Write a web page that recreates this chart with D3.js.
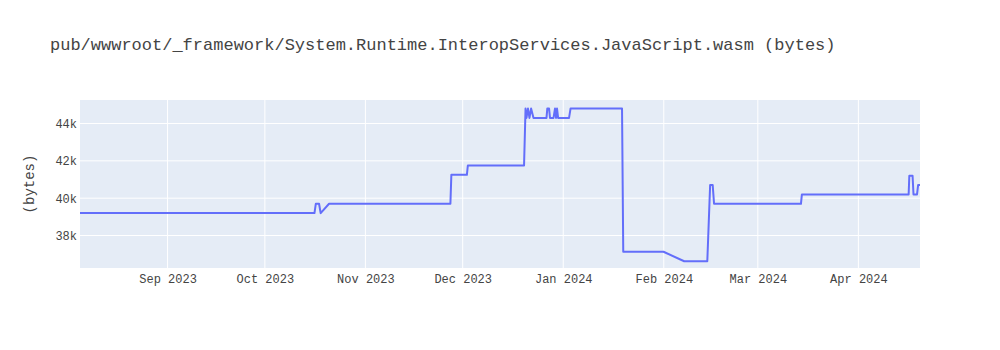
<!DOCTYPE html>
<html>
<head>
<meta charset="utf-8">
<script src="https://cdn.jsdelivr.net/npm/d3@7"></script>
<style>
  body { margin: 0; background: #fff; }
  svg text { font-family: "Courier New", "Liberation Mono", monospace; fill: #444; }
</style>
</head>
<body>
<div id="chart"></div>
<script>
// size history of the file, one point per change
var dates = [
    "2023-08-05T00:00", "2023-10-16T07:00", "2023-10-16T17:00", "2023-10-17T17:00",
    "2023-10-18T05:00", "2023-10-20T19:00", "2023-11-27T05:00", "2023-11-27T12:00",
    "2023-12-02T07:00", "2023-12-02T14:00", "2023-12-19T22:00", "2023-12-20T09:00",
    "2023-12-20T16:00", "2023-12-21T03:00", "2023-12-21T14:00", "2023-12-22T02:00",
    "2023-12-22T20:00", "2023-12-26T20:00", "2023-12-27T02:00", "2023-12-27T15:00",
    "2023-12-27T22:00", "2023-12-29T00:00", "2023-12-29T11:00", "2023-12-29T19:00",
    "2023-12-30T02:00", "2023-12-30T10:00", "2024-01-02T19:00", "2024-01-03T06:00",
    "2024-01-19T03:00", "2024-01-19T12:00", "2024-01-31T22:00", "2024-02-07T07:00",
    "2024-02-14T10:00", "2024-02-15T07:00", "2024-02-16T02:00", "2024-02-16T12:00",
    "2024-03-14T07:00", "2024-03-14T14:00", "2024-04-16T12:00", "2024-04-16T17:00",
    "2024-04-17T17:00", "2024-04-18T00:00", "2024-04-19T02:00", "2024-04-19T10:00",
    "2024-04-20T00:00"
];
var sizes = [
    39200, 39200, 39700, 39700,
    39200, 39700, 39700, 41250,
    41250, 41750, 41750, 44800,
    44300, 44800, 44300, 44800,
    44300, 44300, 44800, 44800,
    44300, 44300, 44800, 44300,
    44800, 44300, 44300, 44800,
    44800, 37130, 37130, 36620,
    36620, 40700, 40700, 39700,
    39700, 40200, 40200, 41200,
    41200, 40200, 40200, 40700,
    40700
];
var yTicks = [38000, 40000, 42000, 44000];
var yRange = [36260, 45260];
var title = "pub/wwwroot/_framework/System.Runtime.InteropServices.JavaScript.wasm (bytes)";
var yTitle = "(bytes)";

var svgWidth = 1000, svgHeight = 350;
var margin = {top: 100, right: 80, bottom: 82, left: 80};
var width = svgWidth - margin.left - margin.right,
    height = svgHeight - margin.top - margin.bottom;

var parseTime = d3.timeParse("%Y-%m-%dT%H:%M");
var data = dates.map(function (d, i) { return {date: parseTime(d), value: sizes[i]}; });

var svg = d3.select("#chart").append("svg")
    .attr("width", svgWidth)
    .attr("height", svgHeight);

var g = svg.append("g")
    .attr("transform", "translate(" + margin.left + "," + margin.top + ")");

var xScale = d3.scaleTime().domain(d3.extent(data, function (d) { return d.date; })).range([0, width]),
    yScale = d3.scaleLinear().domain(yRange).range([height, 0]);

g.append("rect")
    .attr("width", width)
    .attr("height", height)
    .attr("fill", "#e5ecf6");

var monthTicks = xScale.ticks(d3.timeMonth.every(1));

// grid
g.append("g").selectAll("line")
    .data(monthTicks)
    .enter().append("line")
    .attr("x1", function (d) { return xScale(d); })
    .attr("x2", function (d) { return xScale(d); })
    .attr("y1", 0).attr("y2", height)
    .attr("stroke", "#fff").attr("stroke-width", 1);

g.append("g").selectAll("line")
    .data(yTicks)
    .enter().append("line")
    .attr("x1", 0).attr("x2", width)
    .attr("y1", function (d) { return yScale(d); })
    .attr("y2", function (d) { return yScale(d); })
    .attr("stroke", "#fff").attr("stroke-width", 1);

// axes
var xAxis = g.append("g")
    .attr("transform", "translate(0," + height + ")")
    .call(d3.axisBottom(xScale).tickValues(monthTicks).tickFormat(d3.timeFormat("%b %Y")).tickSize(0).tickPadding(6));
xAxis.select(".domain").remove();
xAxis.selectAll("text").style("font-size", "12px").attr("fill", "#444");

var yAxis = g.append("g")
    .call(d3.axisLeft(yScale).tickValues(yTicks).tickFormat(d3.format("~s")).tickSize(0).tickPadding(3));
yAxis.select(".domain").remove();
yAxis.selectAll("text").style("font-size", "12px").attr("fill", "#444");

var line = d3.line()
    .x(function (d) { return xScale(d.date); })
    .y(function (d) { return yScale(d.value); });

g.append("path")
    .datum(data)
    .attr("fill", "none")
    .attr("stroke", "#636efa")
    .attr("stroke-width", 2)
    .attr("stroke-linejoin", "round")
    .attr("d", line);

svg.append("text")
    .attr("x", 50)
    .attr("y", 50)
    .style("font-size", "17px")
    .text(title);

svg.append("text")
    .attr("transform", "translate(34," + (margin.top + height / 2) + ") rotate(-90)")
    .attr("text-anchor", "middle")
    .style("font-size", "14px")
    .text(yTitle);
</script>
</body>
</html>
